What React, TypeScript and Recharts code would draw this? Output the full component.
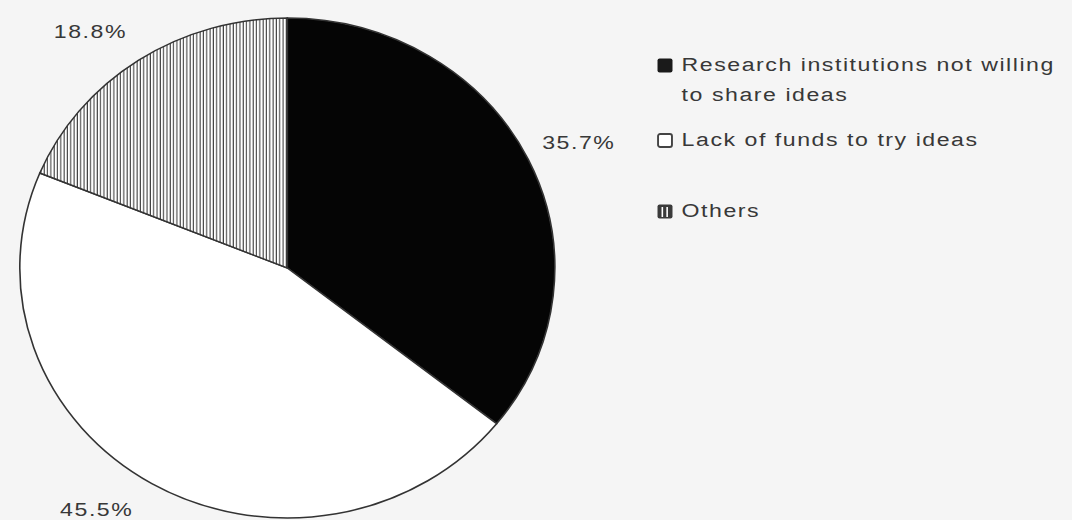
import { PieChart, Pie, Cell, Legend } from "recharts";

const categories = [
  "Research institutions not willing to share ideas",
  "Lack of funds to try ideas",
  "Others",
];
const shares = [35.7, 45.5, 18.8];

const fills = ["#050505", "#ffffff", "url(#vhatch)"];
// small nudges so labels sit where the original put them
const labelShift = [-1, -6, 4];
const legendGaps = [15, 41, 0];

const data = categories.map((name, i) => ({ name, value: shares[i] }));

const RADIAN = Math.PI / 180;
const FONT = "Liberation Sans, Arial, sans-serif";
// the scanned original is stretched a little sideways, its text more so
const STRETCH = 1.07;
const TEXT_WIDEN = 1.2;

const renderLabel = (props: any) => {
  const { cx, cy, midAngle, outerRadius, index, value } = props;
  const a = (midAngle + labelShift[index]) * RADIAN;
  const r = outerRadius + 50;
  const x = cx + r * Math.cos(a);
  const y = cy - r * Math.sin(a);
  return (
    <text
      x={0}
      y={0}
      transform={`translate(${x},${y}) scale(${TEXT_WIDEN},1)`}
      fill="#383838"
      fontSize={18}
      fontFamily={FONT}
      letterSpacing={1.2}
      textAnchor="middle"
      dominantBaseline="central"
    >
      {value.toFixed(1)}%
    </text>
  );
};

const LegendIcon = ({ index }: { index: number }) => (
  <svg width={15} height={15} style={{ flexShrink: 0, marginTop: 8 }}>
    {index === 0 && <rect x={0.5} y={0.5} width={14} height={14} rx={2} fill="#1a1a1a" />}
    {index === 1 && (
      <rect x={1} y={1} width={13} height={13} rx={2} fill="#fff" stroke="#444" strokeWidth={1.8} />
    )}
    {index === 2 && (
      <g>
        <rect x={0.5} y={0.5} width={14} height={14} rx={2} fill="#3a3a3a" />
        <line x1={5} y1={3} x2={5} y2={13} stroke="#fff" strokeWidth={1.5} />
        <line x1={9.5} y1={3} x2={9.5} y2={13} stroke="#fff" strokeWidth={1.5} />
      </g>
    )}
  </svg>
);

const renderLegend = () => (
  <div style={{ fontFamily: FONT, fontSize: 18, letterSpacing: 1.2, color: "#383838" }}>
    {categories.map((c, i) => (
      <div
        key={c}
        style={{ display: "flex", alignItems: "flex-start", marginBottom: legendGaps[i] }}
      >
        <LegendIcon index={i} />
        <div
          style={{
            width: 308,
            lineHeight: "30px",
            marginLeft: 8,
            transform: `scaleX(${TEXT_WIDEN})`,
            transformOrigin: "0 0",
          }}
        >
          {c}
        </div>
      </div>
    ))}
  </div>
);

export default function App() {
  return (
    <div
      style={{
        position: "absolute",
        left: 0,
        top: 0,
        width: 1072,
        height: 520,
        overflow: "hidden",
        background: "#f5f5f5",
      }}
    >
      <svg width={0} height={0} style={{ position: "absolute" }}>
        <defs>
          <pattern id="vhatch" width={3.1} height={10} patternUnits="userSpaceOnUse">
            <rect width={3.1} height={10} fill="#ffffff" />
            <line x1={1} y1={0} x2={1} y2={10} stroke="#222" strokeWidth={0.9} />
          </pattern>
        </defs>
      </svg>
      <div style={{ transform: `scaleX(${STRETCH})`, transformOrigin: "0 0" }}>
        <PieChart width={1002} height={520}>
          <Pie
            data={data}
            dataKey="value"
            nameKey="name"
            cx={263.5}
            cy={263}
            outerRadius={250}
            startAngle={90}
            endAngle={-270}
            stroke="#333"
            strokeWidth={1.5}
            label={renderLabel}
            labelLine={false}
            isAnimationActive={false}
          >
            {data.map((d, i) => (
              <Cell key={d.name} fill={fills[i]} />
            ))}
          </Pie>
          <Legend
            content={renderLegend}
            layout="vertical"
            align="right"
            verticalAlign="top"
            wrapperStyle={{ left: 614, top: 50, width: 390 }}
          />
        </PieChart>
      </div>
    </div>
  );
}
